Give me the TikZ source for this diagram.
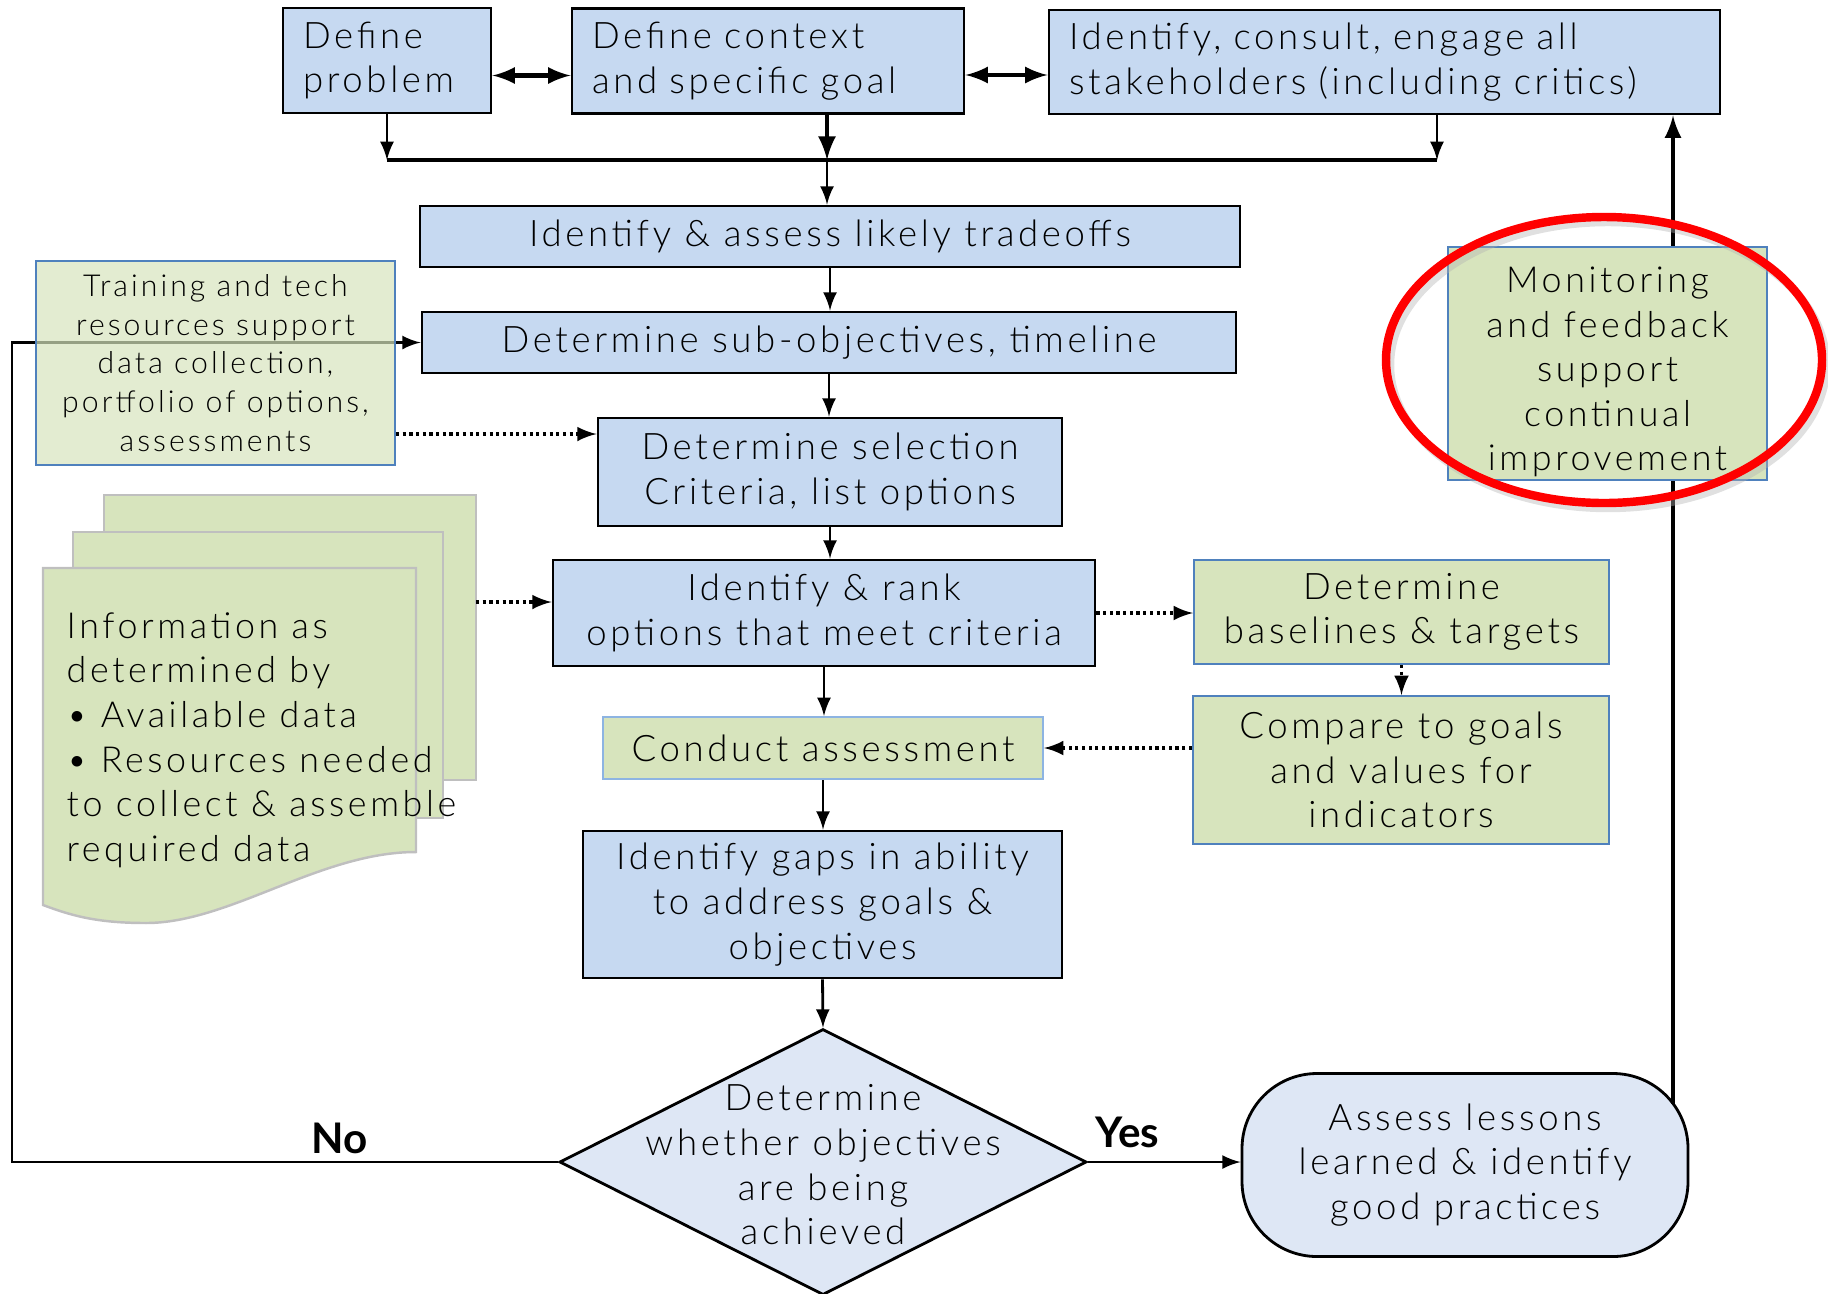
\documentclass[tikz,border=0pt]{standalone}
\usepackage{fontspec}
\setmainfont{Lato Light}[LetterSpace=10]
\newfontfamily\labelfont{Lato}
\usepackage{tikz}
\usetikzlibrary{shapes.geometric}
\definecolor{boxblue}{RGB}{198,217,241}
\definecolor{paleblue}{RGB}{222,231,245}
\definecolor{boxgreen}{RGB}{215,228,189}
\definecolor{edgeblue}{RGB}{79,129,189}
\definecolor{lightedge}{RGB}{141,180,226}
\definecolor{pagegray}{RGB}{191,191,191}

\begin{document}
\begin{tikzpicture}[
    font=\fontsize{10.4}{12.7}\selectfont,
    bluebox/.style={draw=black, line width=0.8pt, fill=boxblue, align=center, inner sep=0pt},
    greenbox/.style={draw=edgeblue, line width=0.6pt, fill=boxgreen, align=center, inner sep=0pt},
    topbox/.style={bluebox, align=left, inner xsep=0.2cm, font=\fontsize{10.4}{12.8}\selectfont},
    flow/.style={-latex, line width=0.8pt},
    dotflow/.style={-latex, line width=0.9pt, densely dotted},
    yesno/.style={inner sep=0pt, font=\fontsize{12}{14}\selectfont\labelfont\bfseries}
  ]
      \useasboundingbox (0,0) rectangle (18.28,-12.93);

      \node[topbox, text width=1.68cm, minimum height=1.05cm] (prob) at (3.87,-0.605) {Define\\problem};
      \node[topbox, text width=3.52cm, minimum height=1.05cm] (ctx) at (7.68,-0.61) {Define context\\and specific goal};
      \node[topbox, text width=6.31cm, minimum height=1.04cm] (stake) at (13.845,-0.62) {Identify, consult, engage all\\stakeholders (including critics)};
      \draw[latex-latex, line width=1.2pt] ([yshift=-0.15cm]prob.east) -- ([yshift=-0.15cm]prob.east -| ctx.west);
      \draw[latex-latex, line width=1.2pt] ([yshift=-0.14cm]ctx.east) -- ([yshift=-0.14cm]ctx.east -| stake.west);

      \coordinate (busL) at (3.87,-1.60);
      \coordinate (busM) at (8.27,-1.60);
      \coordinate (busR) at (14.37,-1.60);
      \draw[line width=1.4pt] (busL) -- (busR);
      \draw[flow] (prob.south) -- (busL);
      \draw[flow, line width=1.3pt] (busM |- ctx.south) -- (busM);
      \draw[flow] (busR |- stake.south) -- (busR);

      \node[bluebox, minimum width=8.20cm, minimum height=0.61cm] (trade) at (8.30,-2.365) {Identify \& assess likely tradeoffs};
      \node[bluebox, minimum width=8.14cm, minimum height=0.61cm] (subobj) at (8.29,-3.425) {Determine sub-objectives, timeline};
      \node[bluebox, minimum width=4.64cm, minimum height=1.08cm] (sel) at (8.30,-4.72) {Determine selection\\Criteria, list options};
      \node[bluebox, minimum width=5.42cm, minimum height=1.06cm] (rank) at (8.24,-6.13) {Identify \& rank\\options that meet criteria};
      \node[greenbox, draw=lightedge, minimum width=4.40cm, minimum height=0.62cm] (conduct) at (8.23,-7.48) {Conduct assessment};
      \node[bluebox, minimum width=4.79cm, minimum height=1.47cm] (gaps) at (8.225,-9.045) {Identify gaps in ability\\to address goals \&\\objectives};
      \node[diamond, draw=black, line width=0.8pt, fill=paleblue, minimum width=5.27cm, minimum height=2.66cm, inner sep=0pt] (decide) at (8.23,-11.62) {};
      \node[align=center] (decidetxt) at (8.23,-11.65) {Determine\\whether objectives\\are being\\achieved};
      \node[bluebox, fill=paleblue, rounded corners=0.75cm, minimum width=4.46cm, minimum height=1.83cm] (lessons) at (14.65,-11.65) {Assess lessons\\learned \& identify\\good practices};

      \draw[flow] (busM) -- (busM |- trade.north);
      \draw[flow] (trade.south) -- (trade.south |- subobj.north);
      \draw[flow] (subobj.south) -- (subobj.south |- sel.north);
      \draw[flow] (sel.south) -- (sel.south |- rank.north);
      \draw[flow] (rank.south) -- (rank.south |- conduct.north);
      \draw[flow] (conduct.south) -- (conduct.south |- gaps.north);
      \draw[flow] (gaps.south) -- (decide.north);

      \node[greenbox, minimum width=4.15cm, minimum height=1.04cm] (base) at (14.015,-6.12) {Determine\\baselines \& targets};
      \node[greenbox, minimum width=4.16cm, minimum height=1.48cm] (compare) at (14.01,-7.70) {Compare to goals\\and values for\\indicators};

      \coordinate (noL) at (0.12,-11.62);
      \draw[flow] (decide.west) -- node[pos=0.4, above=2pt, yesno] (nolbl) {No} (noL) |- (subobj.west);
      \draw[flow] (decide.east) -- node[pos=0.26, above=3.5pt, yesno] (yeslbl) {Yes} (decide.east -| lessons.west);

      \node[greenbox, fill opacity=0.7, text opacity=1, font=\fontsize{8.6}{11}\selectfont, minimum width=3.59cm, minimum height=2.04cm] (train) at (2.155,-3.63) {Training and tech\\resources support\\data collection,\\portfolio of options,\\assessments};

      \draw[pagegray, fill=boxgreen, line width=0.7pt] (1.04,-4.95) rectangle (4.76,-7.80);
      \draw[pagegray, fill=boxgreen, line width=0.7pt] (0.73,-5.32) rectangle (4.43,-8.18);
      \draw[pagegray, fill=boxgreen, line width=0.7pt] (0.43,-5.68) -- (4.16,-5.68) -- (4.16,-8.52)
        .. controls (3.2,-8.52) and (2.3,-9.23) .. (1.46,-9.23)
        .. controls (0.95,-9.23) and (0.7,-9.15) .. (0.43,-9.05) -- cycle;
      \node[anchor=west, align=left, inner sep=0pt, font=\fontsize{10.2}{12.7}\selectfont] (docinfo) at (0.66,-7.40) {Information as\\determined by\\\textbullet\ Available data\\\textbullet\ Resources needed\\to collect \& assemble\\required data};

      \draw[dotflow] ([yshift=-0.71cm]train.east) -- ([yshift=-0.71cm]train.east -| sel.west);
      \coordinate (stackout) at (4.76,-6.02);
      \draw[dotflow] (stackout) -- (stackout -| rank.west);
      \draw[dotflow] (rank.east) -- (rank.east -| base.west);
      \draw[dotflow] (base.south) -- (base.south |- compare.north);
      \draw[dotflow] (compare.west |- conduct.east) -- (conduct.east);

      \coordinate (fbstart) at (16.73,-11.04);
      \draw[line width=1.2pt, -latex] (fbstart) -- (fbstart |- stake.south);
      \node[greenbox, minimum width=3.19cm, minimum height=2.33cm] (monitor) at (16.075,-3.635) {};
      \node[align=center, font=\fontsize{10.2}{12.7}\selectfont] (monitortxt) at (16.075,-3.72) {Monitoring\\and feedback\\support\\continual\\improvement};
      \draw[black!30, line width=2.4pt, opacity=0.4] (16.08,-3.65) ellipse (2.18 and 1.43);
      \draw[red, line width=2.4pt] (16.04,-3.60) ellipse (2.18 and 1.43);
    \end{tikzpicture}
\end{document}
